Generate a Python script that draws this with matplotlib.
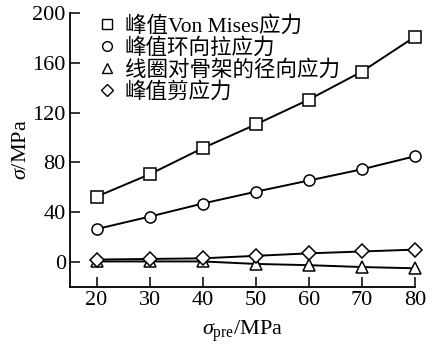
import matplotlib.pyplot as plt
import numpy as np

plt.rcParams['font.family'] = ['Liberation Serif', 'Noto Sans CJK SC']
plt.rcParams['mathtext.fontset'] = 'custom'
plt.rcParams['mathtext.rm'] = 'Liberation Serif'
plt.rcParams['mathtext.it'] = 'Liberation Serif:italic'

# data
pre_stress = [20, 30, 40, 50, 60, 70, 80]
von_mises = [52.5, 70.5, 91.5, 110.5, 130.5, 153, 181]
hoop = [26.5, 36.5, 47, 56.5, 65.5, 74.5, 85]
radial = [0.5, 0.5, 0.5, -1.5, -2.5, -4, -5]
shear = [2, 2.5, 3, 5, 7, 8.5, 10]

labels = ['峰值Von Mises应力', '峰值环向拉应力', '线圈对骨架的径向应力', '峰值剪应力']
markers = ['s', 'o', '^', 'D']

fig = plt.figure(figsize=(4.36, 3.47), dpi=100)
ax = fig.add_axes([0.1606, 0.173, 0.7914, 0.7895])

series = [von_mises, hoop, radial, shear]
for vals, m, lab in zip(series, markers, labels):
    ms = 7 if m == 'D' else 8
    ax.plot(pre_stress, vals, color='black', lw=1.4, marker=m, ms=ms,
            mfc='white', mec='black', mew=1.1, clip_on=False, zorder=3)

# legend shows markers only
handles = [plt.Line2D([], [], ls='none', marker=m, ms=(6 if m == 'D' else 7),
                      mfc='white', mec='black', mew=1.0) for m in markers]
ax.legend(handles, labels, loc='upper left', bbox_to_anchor=(0.05, 1.02),
          frameon=False, fontsize=15.5, handletextpad=0.35, labelspacing=0.05,
          handlelength=1.0, borderaxespad=0)

ax.set_xlim(15, 80)
ax.set_ylim(-20, 200)
ax.set_xticks(pre_stress)
ax.set_yticks([0, 40, 80, 120, 160, 200])
ax.tick_params(direction='in', length=7, width=1.1, labelsize=16, pad=3)
ax.spines['top'].set_visible(False)
ax.spines['right'].set_visible(False)
ax.spines['left'].set_linewidth(1.3)
ax.spines['bottom'].set_linewidth(1.3)
ax.spines['left'].set_bounds(-20, 200)
ax.set_xlabel(r'$\sigma_{\mathrm{pre}}$/MPa', fontsize=16, labelpad=6)
ax.set_ylabel(r'$\sigma$/MPa', fontsize=16, labelpad=1)

fig.savefig('out.png', dpi=100)
